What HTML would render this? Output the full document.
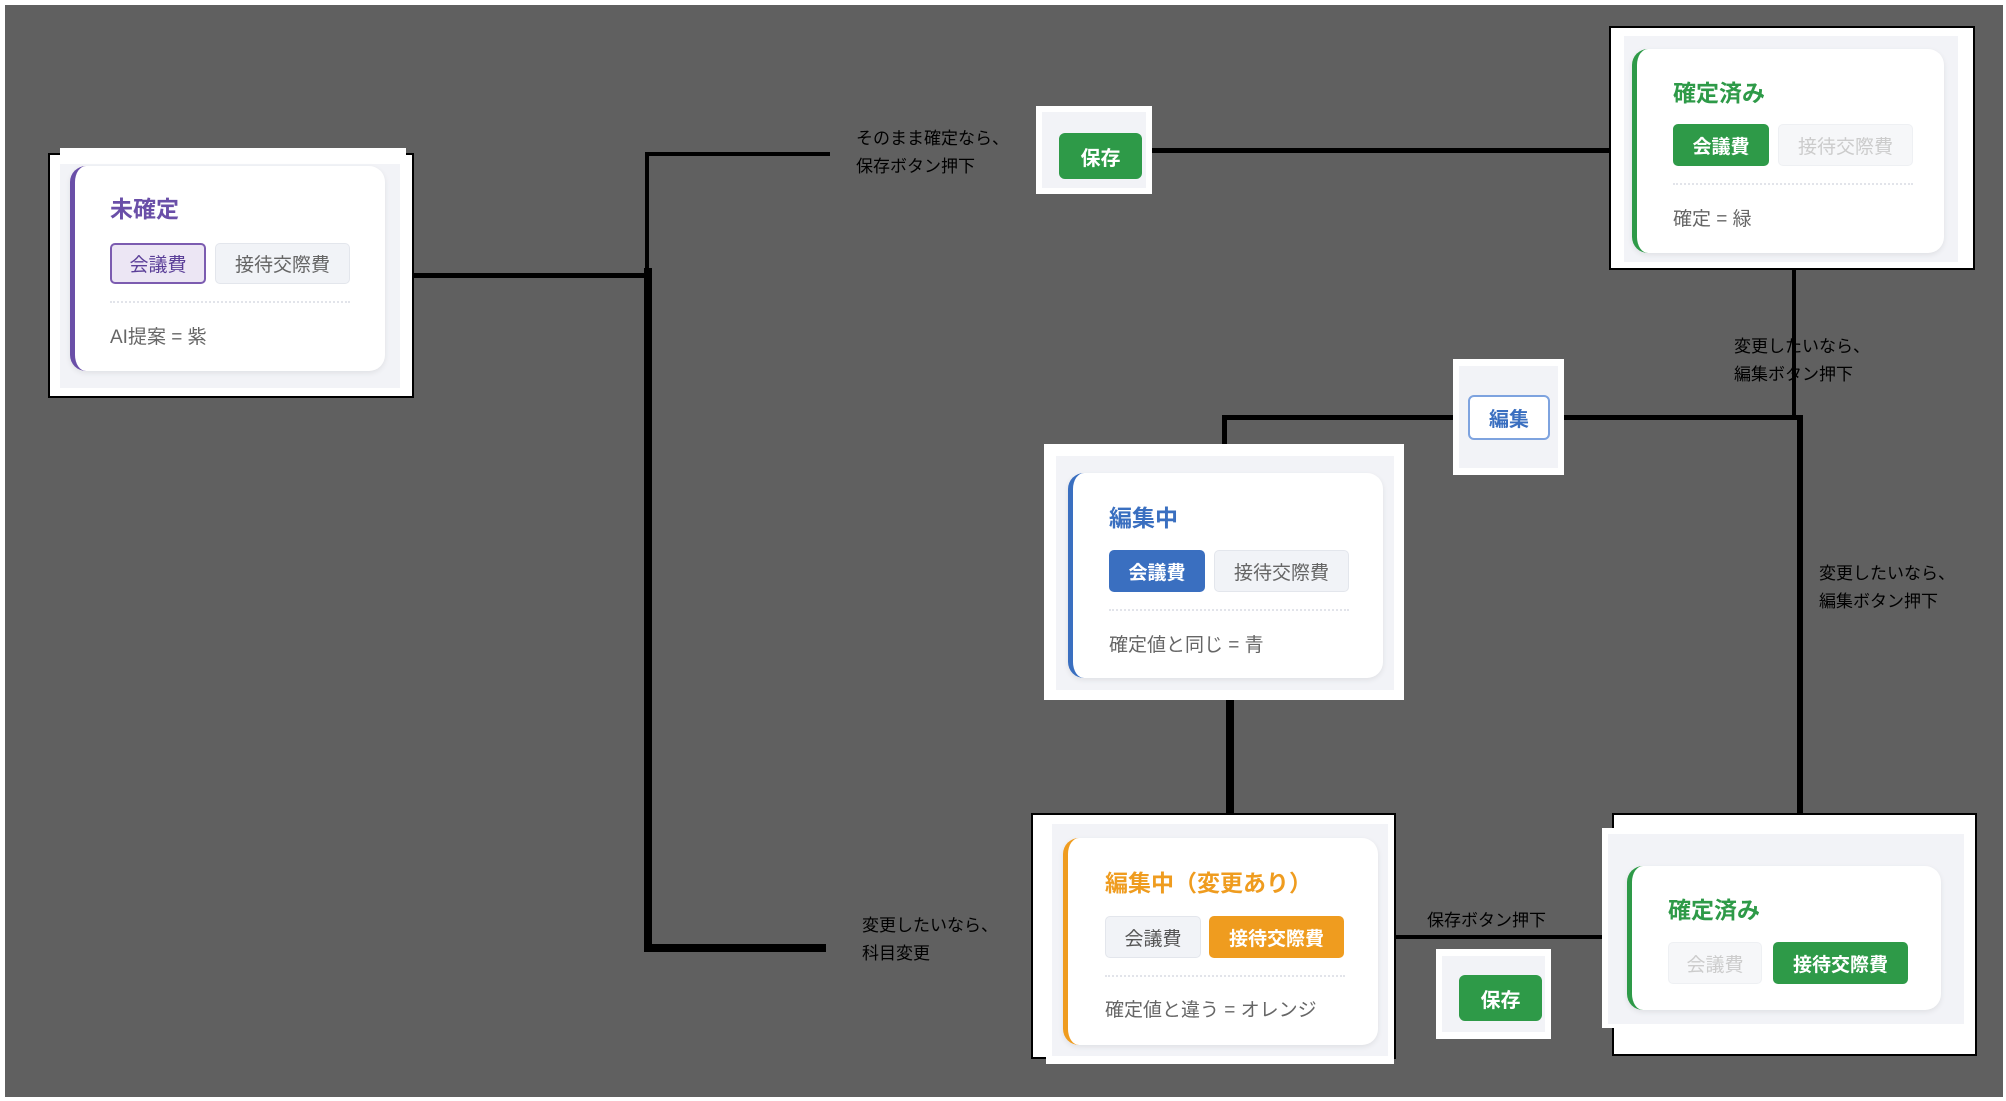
<!DOCTYPE html>
<html><head><meta charset="utf-8"><style>
*{box-sizing:border-box;margin:0;padding:0}
body{width:2006px;height:1101px;background:#fff;position:relative;overflow:hidden;font-family:"Liberation Sans","Noto Sans CJK JP",sans-serif}
.a{position:absolute}
.bg{left:5px;top:5px;width:1998px;height:1092px;background:#606060}
.l{position:absolute;background:#000}
.wb{position:absolute;background:#fff}
.bb{position:absolute;background:#fff;border:2px solid #000}
.pn{position:absolute;background:#f2f3f7}
.card{position:absolute;background:#fff;border-radius:16px;box-shadow:0 2px 6px rgba(0,0,0,.08)}
.bar{position:absolute;left:0;top:0;bottom:0;width:16px;border-radius:16px 0 0 16px;border-left:5px solid}
.t{position:absolute;font-weight:bold;font-size:23px;white-space:nowrap}
.chip{position:absolute;border-radius:5px;font-size:19px;display:flex;align-items:center;justify-content:center;white-space:nowrap}
.g{background:#f1f3f7;border:1px solid #e3e6ec;color:#666}
.f{background:#f6f7f9;border:1px solid #eef0f3;color:#ccc}
.dot{position:absolute;height:0;border-top:2px dotted #e2e4ea}
.ft{position:absolute;font-size:19px;color:#666;white-space:nowrap}
.lab{position:absolute;font-size:17px;line-height:28px;color:#000;white-space:nowrap}
.btn{position:absolute;border-radius:6px;font-weight:bold;font-size:20px;display:flex;align-items:center;justify-content:center}
</style></head><body>
<div class="a bg"></div>

<div class="l" style="left:413px;top:273px;width:236px;height:5px"></div>
<div class="l" style="left:645px;top:152px;width:4px;height:120px"></div>
<div class="l" style="left:644px;top:268px;width:8px;height:683px"></div>
<div class="l" style="left:645px;top:152px;width:185px;height:4px"></div>
<div class="l" style="left:644px;top:944px;width:182px;height:8px"></div>
<div class="l" style="left:1152px;top:148px;width:458px;height:5px"></div>
<div class="l" style="left:1792px;top:268px;width:4px;height:152px"></div>
<div class="l" style="left:1564px;top:415px;width:236px;height:5px"></div>
<div class="l" style="left:1797px;top:415px;width:6px;height:400px"></div>
<div class="l" style="left:1222px;top:415px;width:232px;height:5px"></div>
<div class="l" style="left:1222px;top:415px;width:5px;height:62px"></div>
<div class="l" style="left:1226px;top:700px;width:8px;height:114px"></div>
<div class="l" style="left:1395px;top:935px;width:207px;height:4px"></div>

<div class="lab" style="left:856px;top:125px">そのまま確定なら、<br>保存ボタン押下</div>
<div class="lab" style="left:1734px;top:333px">変更したいなら、<br>編集ボタン押下</div>
<div class="lab" style="left:1819px;top:560px">変更したいなら、<br>編集ボタン押下</div>
<div class="lab" style="left:862px;top:912px">変更したいなら、<br>科目変更</div>
<div class="lab" style="left:1427px;top:907px">保存ボタン押下</div>

<div class="bb" style="left:48px;top:153px;width:366px;height:245px"></div>
<div class="wb" style="left:60px;top:148px;width:346px;height:10px"></div>
<div class="pn" style="left:60px;top:164px;width:340px;height:224px"></div>
<div class="card" style="left:70px;top:166px;width:315px;height:205px"><div class="bar" style="border-color:#6a4fa8"></div></div>
<div class="t" style="left:110px;top:190px;color:#6a4fa8">未確定</div>
<div class="chip" style="left:110px;top:243px;width:96px;height:41px;background:#ece6f4;border:2px solid #7c5cb0;color:#5b3f98">会議費</div>
<div class="chip g" style="left:215px;top:243px;width:135px;height:41px">接待交際費</div>
<div class="dot" style="left:110px;top:301px;width:240px"></div>
<div class="ft" style="left:110px;top:322px">AI提案 = 紫</div>

<div class="wb" style="left:1036px;top:106px;width:116px;height:88px"></div>
<div class="pn" style="left:1042px;top:112px;width:104px;height:76px"></div>
<div class="btn" style="left:1059px;top:133px;width:83px;height:46px;background:#2e9a48;color:#fff">保存</div>

<div class="bb" style="left:1609px;top:26px;width:366px;height:244px"></div>
<div class="pn" style="left:1624px;top:36px;width:334px;height:226px"></div>
<div class="card" style="left:1632px;top:49px;width:312px;height:204px"><div class="bar" style="border-color:#2e9a48"></div></div>
<div class="t" style="left:1673px;top:74px;color:#2e9a48">確定済み</div>
<div class="chip" style="left:1673px;top:124px;width:96px;height:42px;background:#2e9a48;color:#fff;font-weight:bold">会議費</div>
<div class="chip f" style="left:1778px;top:124px;width:135px;height:42px">接待交際費</div>
<div class="dot" style="left:1673px;top:183px;width:240px"></div>
<div class="ft" style="left:1673px;top:204px">確定 = 緑</div>

<div class="wb" style="left:1453px;top:359px;width:111px;height:116px"></div>
<div class="pn" style="left:1459px;top:366px;width:99px;height:102px"></div>
<div class="btn" style="left:1468px;top:395px;width:82px;height:45px;background:#fff;border:2px solid #7ea3df;color:#3a6fc0">編集</div>

<div class="wb" style="left:1044px;top:444px;width:360px;height:256px"></div>
<div class="pn" style="left:1056px;top:456px;width:338px;height:234px"></div>
<div class="card" style="left:1068px;top:473px;width:315px;height:205px"><div class="bar" style="border-color:#3a6fc0"></div></div>
<div class="t" style="left:1109px;top:499px;color:#3a6fc0">編集中</div>
<div class="chip" style="left:1109px;top:550px;width:96px;height:42px;background:#3a6fc0;color:#fff;font-weight:bold">会議費</div>
<div class="chip g" style="left:1214px;top:550px;width:135px;height:42px">接待交際費</div>
<div class="dot" style="left:1109px;top:609px;width:240px"></div>
<div class="ft" style="left:1109px;top:630px">確定値と同じ = 青</div>

<div class="bb" style="left:1031px;top:813px;width:365px;height:246px"></div>
<div class="wb" style="left:1046px;top:818px;width:348px;height:246px"></div>
<div class="pn" style="left:1052px;top:824px;width:336px;height:232px"></div>
<div class="card" style="left:1063px;top:838px;width:315px;height:207px"><div class="bar" style="border-color:#ef9c1f"></div></div>
<div class="t" style="left:1105px;top:864px;color:#ef9c1f">編集中（変更あり）</div>
<div class="chip g" style="left:1105px;top:916px;width:96px;height:42px;color:#555">会議費</div>
<div class="chip" style="left:1209px;top:916px;width:135px;height:42px;background:#ef9c1f;color:#fff;font-weight:bold">接待交際費</div>
<div class="dot" style="left:1105px;top:975px;width:240px"></div>
<div class="ft" style="left:1105px;top:995px">確定値と違う = オレンジ</div>

<div class="wb" style="left:1436px;top:949px;width:115px;height:90px"></div>
<div class="pn" style="left:1442px;top:956px;width:103px;height:76px"></div>
<div class="btn" style="left:1459px;top:975px;width:83px;height:46px;background:#2e9a48;color:#fff">保存</div>

<div class="bb" style="left:1612px;top:813px;width:365px;height:243px"></div>
<div class="wb" style="left:1602px;top:828px;width:20px;height:200px"></div>
<div class="pn" style="left:1608px;top:834px;width:356px;height:190px"></div>
<div class="card" style="left:1627px;top:866px;width:314px;height:144px"><div class="bar" style="border-color:#2e9a48"></div></div>
<div class="t" style="left:1668px;top:891px;color:#2e9a48">確定済み</div>
<div class="chip f" style="left:1668px;top:942px;width:94px;height:42px">会議費</div>
<div class="chip" style="left:1773px;top:942px;width:135px;height:42px;background:#2e9a48;color:#fff;font-weight:bold">接待交際費</div>
</body></html>
